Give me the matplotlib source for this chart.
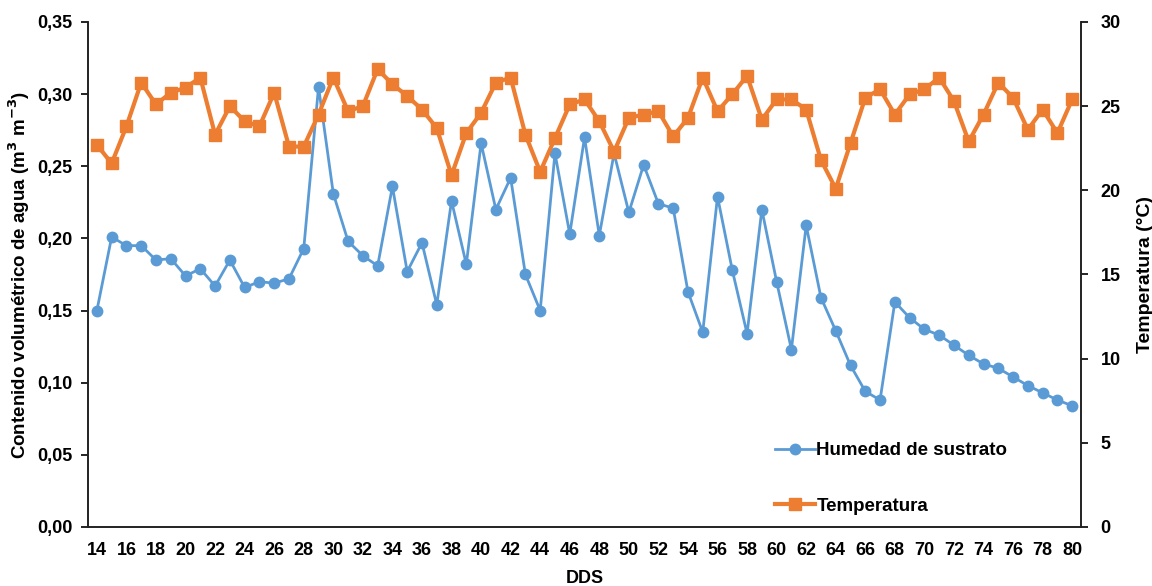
import numpy as np
import matplotlib.pyplot as plt
from matplotlib.ticker import FuncFormatter, MultipleLocator

plt.rcParams['font.family'] = ['Liberation Sans', 'DejaVu Sans']
plt.rcParams['font.weight'] = 'bold'

# days after sowing
dds = list(range(14, 81))

# substrate moisture (m3 m-3), left axis
humedad = [0.150, 0.201, 0.195, 0.195, 0.185, 0.186, 0.174, 0.179, 0.167, 0.185,
           0.166, 0.170, 0.169, 0.172, 0.193, 0.305, 0.231, 0.198, 0.188, 0.181,
           0.236, 0.177, 0.197, 0.154, 0.226, 0.182, 0.266, 0.220, 0.242, 0.175,
           0.150, 0.259, 0.203, 0.270, 0.202, 0.259, 0.218, 0.251, 0.224, 0.221,
           0.163, 0.135, 0.229, 0.178, 0.134, 0.220, 0.170, 0.123, 0.209, 0.159,
           0.136, 0.112, 0.094, 0.088, 0.156, 0.145, 0.137, 0.133, 0.126, 0.119,
           0.113, 0.110, 0.104, 0.098, 0.093, 0.088, 0.084]

# temperature (C), right axis
temperatura = [22.7, 21.6, 23.8, 26.4, 25.1, 25.8, 26.1, 26.7, 23.3, 25.0,
               24.1, 23.8, 25.8, 22.6, 22.6, 24.5, 26.7, 24.7, 25.0, 27.2,
               26.3, 25.6, 24.8, 23.7, 20.9, 23.4, 24.6, 26.4, 26.7, 23.3,
               21.1, 23.1, 25.1, 25.4, 24.1, 22.3, 24.3, 24.5, 24.7, 23.2,
               24.3, 26.7, 24.7, 25.7, 26.8, 24.2, 25.4, 25.4, 24.8, 21.8,
               20.1, 22.8, 25.5, 26.0, 24.5, 25.7, 26.0, 26.7, 25.3, 22.9,
               24.5, 26.4, 25.5, 23.6, 24.8, 23.4, 25.4]

azul = '#5B9BD5'
naranja = '#ED7D31'

fig = plt.figure(figsize=(11.52, 5.86), dpi=100)
ax = fig.add_axes([0.0764, 0.1007, 0.862, 0.8618])
ax2 = ax.twinx()

l1, = ax.plot(dds, humedad, color=azul, lw=2, marker='o', ms=7.5,
              label='Humedad de sustrato')
l2, = ax2.plot(dds, temperatura, color=naranja, lw=3, marker='s', ms=8,
               label='Temperatura')

ax.set_xlim(13.4, 80.6)
ax.set_ylim(0, 0.35)
ax2.set_ylim(0, 30)
ax.yaxis.set_major_locator(MultipleLocator(0.05))
ax2.yaxis.set_major_locator(MultipleLocator(5))
ax.yaxis.set_major_formatter(FuncFormatter(lambda v, p: f'{v:.2f}'.replace('.', ',')))
ax.set_xticks(dds[::2])

for a in (ax, ax2):
    a.spines['top'].set_visible(False)
    for s in a.spines.values():
        s.set_linewidth(1.2)
        s.set_color('#222222')
    a.tick_params(labelsize=13, width=1.2, length=5, colors='black')
ax.tick_params(axis='x', length=0, pad=11)
ax.tick_params(axis='y', pad=6)
ax2.tick_params(axis='y', pad=9)

ax.set_ylabel('Contenido volumétrico de agua (m$^\\mathbf{3}$ m$^\\mathbf{-3}$)',
              fontsize=13.5, fontweight='bold', labelpad=4)
ax2.set_ylabel('Temperatura (°C)', fontsize=14, fontweight='bold', labelpad=12)
ax.set_xlabel('DDS', fontsize=13, fontweight='bold', labelpad=8)

leg = ax.legend(handles=[l1, l2], loc='center left', bbox_to_anchor=(0.692, 0.096),
                frameon=False, fontsize=13.5, labelspacing=2.05, handlelength=2.1,
                handletextpad=0.1, borderaxespad=0, borderpad=0)

fig.savefig('out.png', dpi=100)
